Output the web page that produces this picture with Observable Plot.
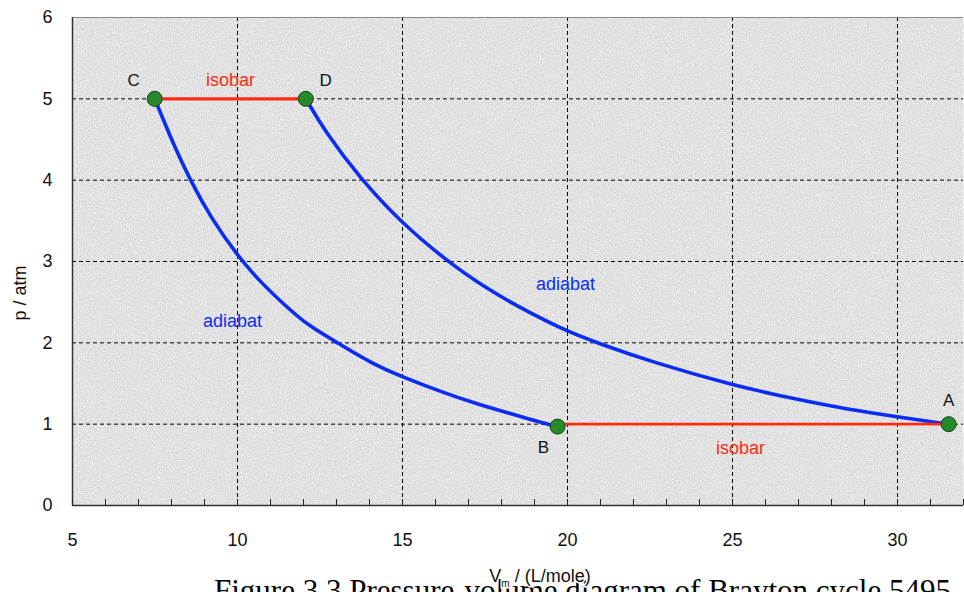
<!DOCTYPE html>
<html>
<head>
<meta charset="utf-8">
<script src="https://cdn.jsdelivr.net/npm/d3@7"></script>
<script src="https://cdn.jsdelivr.net/npm/@observablehq/plot@0.6"></script>
<style>
  html, body { margin: 0; padding: 0; background: #ffffff; }
  #chart { width: 964px; height: 592px; overflow: hidden; }
  svg { font-family: "Liberation Sans", Arial, sans-serif; }
</style>
</head>
<body>
<div id="chart"></div>
<script>
// ---- data ----
const xTicks = [5, 10, 15, 20, 25, 30];
const yTicks = [0, 1, 2, 3, 4, 5, 6];
const xMinorTicks = [5,6,7,8,9,10,11,12,13,14,15,16,17,18,19,20,21,22,23,24,25,26,27,28,29,30,31,32];
const xGrid = [10, 15, 20, 25, 30];
const yGrid = [1, 2, 3, 4, 5];

// adiabat C -> B
const volumeCB   = [7.49, 8.07, 8.58, 9.19, 10.0, 10.71, 11.52, 12.12, 13.03, 14.14, 15.0, 16.16, 17.17, 18.18, 19.19, 19.7];
const pressureCB = [5.0, 4.43, 3.99, 3.54, 3.07, 2.74, 2.43, 2.22, 2.0, 1.73, 1.58, 1.40, 1.26, 1.14, 1.02, 0.97];
// adiabat D -> A
const volumeDA   = [12.07, 12.65, 13.68, 14.98, 16.27, 17.56, 18.85, 19.99, 20.9, 22.59, 24.99, 27.11, 28.4, 29.99, 31.55];
const pressureDA = [5.0, 4.6, 4.04, 3.47, 3.03, 2.66, 2.37, 2.14, 2.0, 1.76, 1.48, 1.29, 1.19, 1.09, 1.0];
// isobars
const volumeCD   = [7.49, 12.07];
const pressureCD = [5, 5];
const volumeBA   = [19.7, 31.55];
const pressureBA = [1, 1];

// states
const stateNames    = ["A", "B", "C", "D"];
const stateVolume   = [31.55, 19.7, 7.49, 12.07];
const statePressure = [1.0, 0.97, 5.0, 5.0];
const stateLabelV   = [31.55, 19.27, 6.85, 12.67];
const stateLabelP   = [1.29, 0.71, 5.23, 5.23];

// curve labels
const curveLabelText = ["isobar", "isobar", "adiabat", "adiabat"];
const curveLabelV    = [9.79, 25.24, 9.85, 19.94];
const curveLabelP    = [5.23, 0.71, 2.27, 2.72];
const curveLabelKind = ["isobar", "isobar", "adiabat", "adiabat"];

const caption = "Figure 3.3 Pressure-volume diagram of Brayton cycle 5495";

// ---- tables built from arrays ----
const zip = (xs, ys) => xs.map((x, i) => ({V: x, p: ys[i]}));
const cb = zip(volumeCB, pressureCB);
const da = zip(volumeDA, pressureDA);
const cd = zip(volumeCD, pressureCD);
const ba = zip(volumeBA, pressureBA);
const states = stateNames.map((n, i) => ({name: n, V: stateVolume[i], p: statePressure[i], lv: stateLabelV[i], lp: stateLabelP[i]}));
const curveLabels = curveLabelText.map((t, i) => ({t, V: curveLabelV[i], p: curveLabelP[i], kind: curveLabelKind[i]}));

const BLUE = "#0b2cf2";
const RED = "#ff2a12";

const plot = Plot.plot({
  width: 964,
  height: 592,
  marginLeft: 72,
  marginRight: 1,
  marginTop: 17,
  marginBottom: 87,
  style: {fontFamily: "'Liberation Sans', Arial, sans-serif", background: "white"},
  x: {domain: [5, 32]},
  y: {domain: [0, 6]},
  marks: [
    Plot.frame({fill: "#d9d9d9"}),
    Plot.frame({fill: "white"}),
    Plot.ruleX(xGrid, {stroke: "#000", strokeWidth: 1, strokeDasharray: "4,3"}),
    Plot.ruleY(yGrid, {stroke: "#000", strokeWidth: 1, strokeDasharray: "4,3"}),
    Plot.ruleY([6], {stroke: "#8a8a8a", strokeWidth: 1.2}),
    Plot.ruleX([5], {stroke: "#333", strokeWidth: 1.5}),
    Plot.ruleY([0], {stroke: "#333", strokeWidth: 1.5}),
    Plot.axisX(xMinorTicks, {tickSize: -6, tickFormat: () => "", stroke: "#222", label: null}),
    Plot.axisX(xTicks, {tickSize: 0, tickPadding: 28, fontSize: 18, label: null, fill: "#111", tickFormat: d3.format("d")}),
    Plot.axisY(yTicks, {tickSize: 0, tickPadding: 20, fontSize: 18, label: null, fill: "#111", tickFormat: d3.format("d")}),
    Plot.line(cb, {x: "V", y: "p", stroke: BLUE, strokeWidth: 3.6, curve: "basis"}),
    Plot.line(da, {x: "V", y: "p", stroke: BLUE, strokeWidth: 3.6, curve: "basis"}),
    Plot.line(cd, {x: "V", y: "p", stroke: RED, strokeWidth: 3.4}),
    Plot.line(ba, {x: "V", y: "p", stroke: RED, strokeWidth: 2.6}),
    Plot.dot(states, {x: "V", y: "p", r: 7.5, fill: "#268a2a", stroke: "#1a3d1a", strokeWidth: 1}),
    Plot.text(states, {x: "lv", y: "lp", text: "name", fontSize: 17, fill: "#111"}),
    Plot.text(curveLabels, {x: "V", y: "p", text: "t", fontSize: 18, fill: d => d.kind === "isobar" ? RED : BLUE})
  ]
});

const svg = d3.select(plot);
// texture filter for the plot background
const defs = svg.insert("defs", ":first-child");
const f = defs.append("filter").attr("id", "noise")
  .attr("x", 0).attr("y", 0).attr("width", 1).attr("height", 1)
  .attr("filterUnits", "objectBoundingBox");
f.append("feTurbulence").attr("type", "fractalNoise").attr("baseFrequency", 0.85).attr("numOctaves", 2).attr("seed", 4);
f.append("feColorMatrix").attr("type", "matrix")
  .attr("values", "0 0 0 0 1  0 0 0 0 1  0 0 0 0 1  0 0 0 1.7 -0.62");
const frames = svg.selectAll('[aria-label="frame"]').nodes();
if (frames[1]) d3.select(frames[1]).attr("filter", "url(#noise)").attr("opacity", 0.95);

// axis titles
svg.append("text")
  .attr("transform", "translate(26,293) rotate(-90)")
  .attr("text-anchor", "middle")
  .attr("font-size", 18)
  .attr("fill", "#111")
  .text("p / atm");

// caption (cut off at the bottom of the picture, as in the reference)
svg.append("text")
  .attr("x", 214).attr("y", 601)
  .attr("text-anchor", "start")
  .attr("font-family", "'Liberation Serif', 'Times New Roman', serif")
  .attr("font-size", 31)
  .attr("fill", "#000")
  .text(caption);

const xl = svg.append("text")
  .attr("x", 540).attr("y", 582)
  .attr("text-anchor", "middle")
  .attr("font-size", 18)
  .attr("fill", "#111")
  .attr("paint-order", "stroke")
  .attr("stroke", "white")
  .attr("stroke-width", 3);
xl.append("tspan").text("V");
xl.append("tspan").attr("font-size", 10).attr("dy", 5).text("m");
xl.append("tspan").attr("dy", -5).text(" / (L/mole)");

document.getElementById("chart").appendChild(plot);
</script>
</body>
</html>
